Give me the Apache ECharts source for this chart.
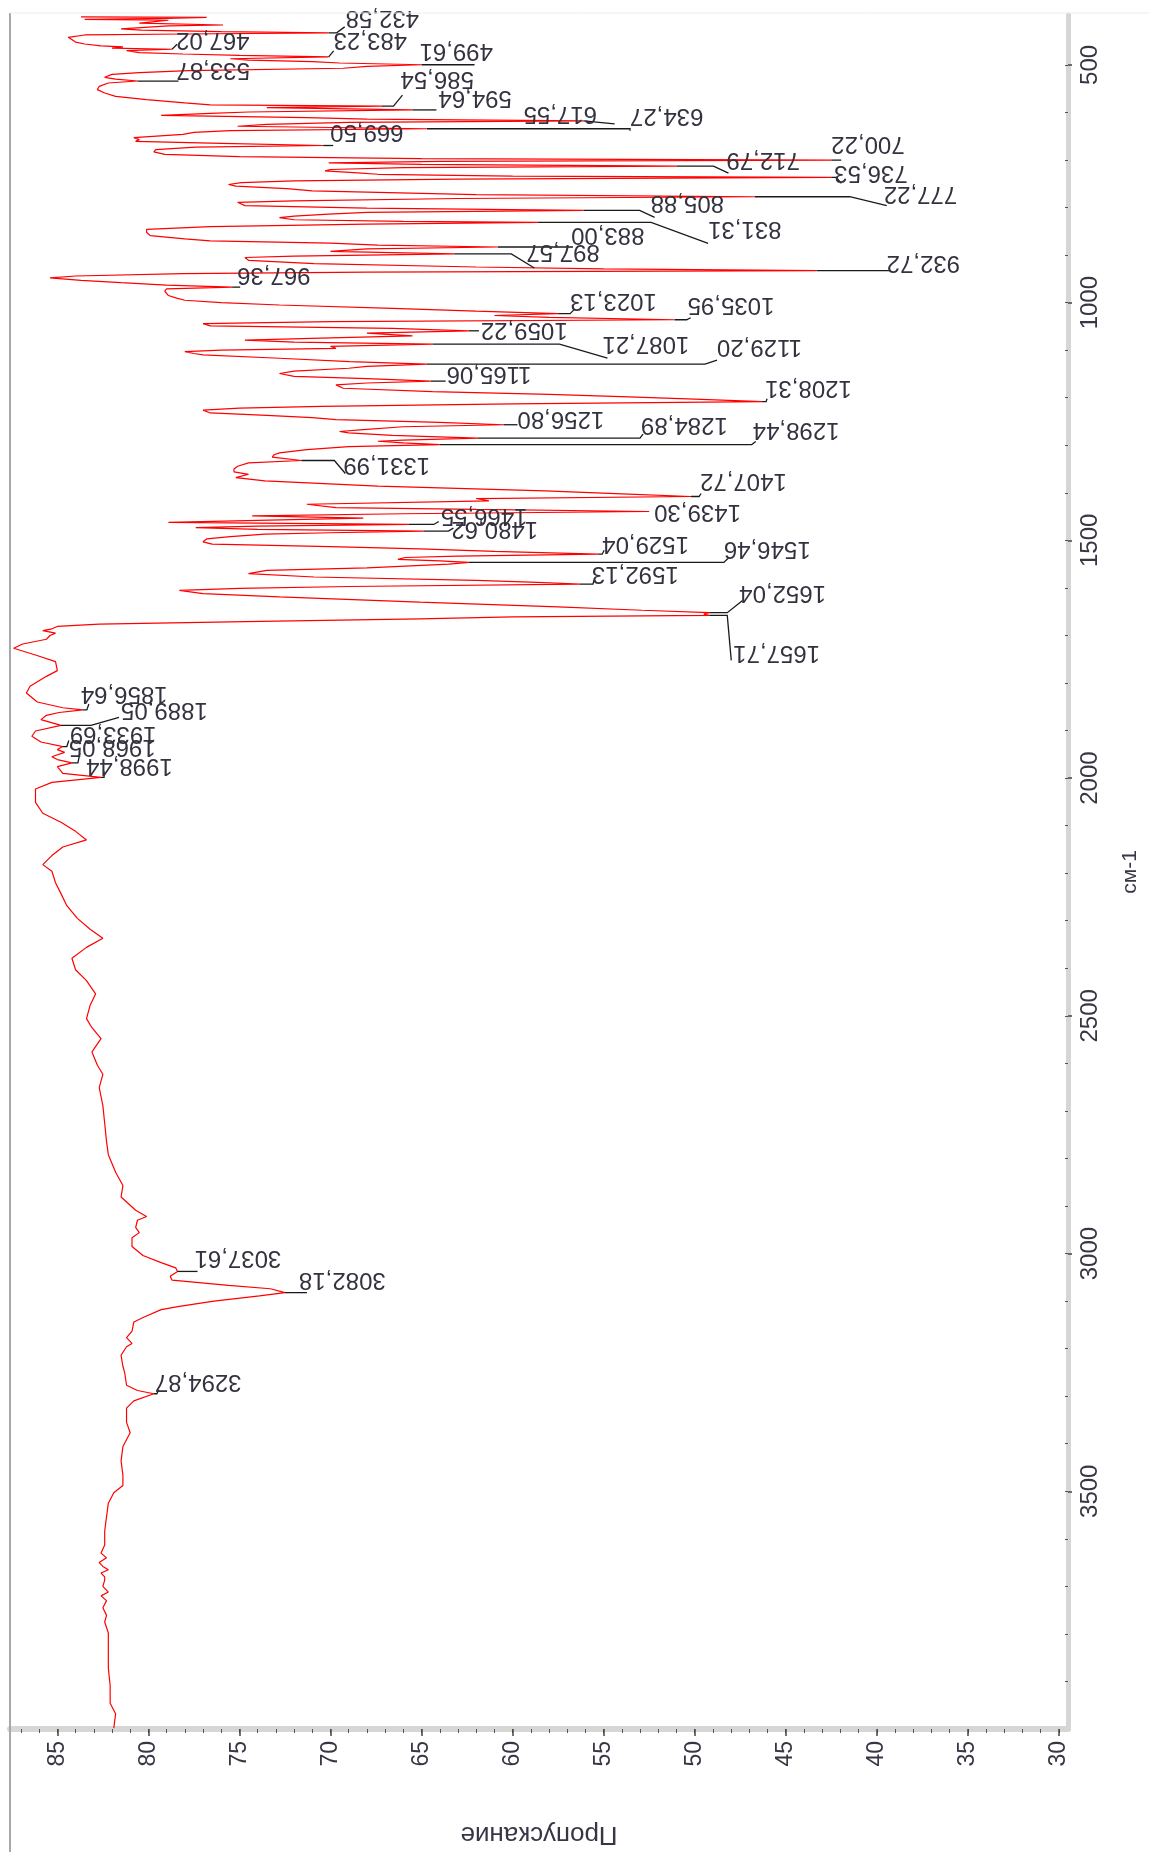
<!DOCTYPE html>
<html><head><meta charset="utf-8">
<script src="https://cdn.jsdelivr.net/npm/echarts@6/dist/echarts.min.js"></script>
<style>html,body{margin:0;padding:0;background:#fff}#c{width:1149px;height:1852px}</style>
</head><body><div id="c"></div>
<script>
// ---- data: IR spectrum (wavenumber, transmittance) ----
const spectrumWn = [399,400,402,404,406,412,416,418,424,427,430,432.58,435,437,442,446,452,456,460,462,464.5,467.02,470,474,477,480,483.23,487,490,493,496,499.61,503,507,512,516,520,526,530,533.87,538,545,552,559,566,573,580,584,586.54,590,594.64,599,602,606,611,614,617.55,621,625,629,634.27,638,642,646,653,657,661,665,669.50,673,678,683,688,693,697,700.22,703,706,709,712.79,716,720,723,727,730,734,736.53,740,744,747.5,751.5,755,760,765,769,773,777.22,781,786,789,796,801,805.88,810,814,818,821,825.6,829,831.31,835,840,846,852,859,866,870,875,879,883.00,887,892,897.57,902,905,911,918,925,929,932.72,936,939,944,948,953,958,963,967.36,971,976,980,985,990,995,1000,1005,1012,1018,1023.13,1027,1031,1035.95,1040,1044,1049,1054,1059.22,1064,1070,1074,1079,1083,1087.21,1092,1096,1100,1103,1107,1110,1117,1124,1129.20,1134,1138,1144,1149,1155,1160,1165.06,1169,1173,1180,1187,1193,1198,1203,1208.31,1213,1218,1222,1226,1232,1237,1242,1246,1252,1256.80,1261,1267,1271,1274,1279,1284.89,1289,1291.5,1295,1298.44,1303,1309,1316,1320,1325,1331.99,1337,1344,1350,1356,1361,1368,1375,1386,1396,1402,1407.72,1412,1417,1424,1431,1435,1439.30,1444,1448.4,1453,1458,1462,1466.55,1470,1473,1477,1480.62,1484,1487,1492,1497,1503,1508,1513,1518,1523,1529.04,1533,1536,1540,1543,1546.46,1550,1553,1558,1563,1570,1577,1584,1588,1592.13,1597,1601,1605,1612,1619,1630,1640,1647,1652.04,1655,1657.71,1661,1665,1671,1676,1681,1686,1690,1695,1700,1708,1718,1727,1741,1755,1774,1786,1807,1821,1840,1852,1856.64,1862,1868,1877,1889.05,1901,1912,1924,1933.69,1940,1946,1955,1961,1968.05,1976,1990,1998.44,2009,2023,2051,2074,2093,2112,2130,2145,2163,2182,2196,2220,2243,2267,2295,2318,2337,2356,2379,2403,2426,2454,2478,2506,2525,2548,2576,2604,2623,2651,2689,2726,2764,2792,2829,2857,2881,2909,2922,2930,2945,2956,2967,2985,3004,3019,3030,3037.61,3048,3056,3067,3074,3082.18,3089,3100,3111,3118,3133,3144,3163,3177,3189,3196,3214,3237,3251,3277,3288,3294.87,3310,3325,3355,3377,3406,3436,3466,3488,3503,3525,3554,3584,3613,3630,3640,3650,3658,3665,3672,3680,3687,3700,3712,3720,3730,3745,3761,3775,3798,3835,3872,3909,3946,3968,3998];
const spectrumT = [83.7,76.8,79.0,83.5,78.9,80.5,75.9,78.9,81.5,80.4,76.0,70.1,78.0,83.5,84.4,84.5,84.0,83.5,82.6,81.4,82.0,78.7,81.2,80.5,78.1,75.0,70.1,75.5,74.5,71.0,69.5,65.0,68.0,69.3,77.8,80.5,82.0,82.4,81.8,80.6,82.2,82.7,82.8,82.4,81.8,80.1,78.0,76.6,67.2,73.5,65.5,74.5,76.6,79.3,71.3,68.0,56.1,69.0,73.5,75.1,64.7,75.5,77.5,78.1,80.8,80.5,80.7,76.0,70.4,77.4,79.6,79.7,79.1,75.0,65.0,42.5,64.0,70.1,65.0,51.0,66.0,70.0,70.3,68.5,67.4,60.0,42.5,63.0,72.0,74.9,75.6,75.2,72.4,71.0,70.9,62.0,46.7,63.0,72.0,75.1,74.7,68.0,56.1,68.0,70.1,72.0,72.8,72.0,66.0,58.6,68.0,76.6,80.1,80.1,79.9,78.0,76.6,70.0,67.4,60.8,68.0,70.0,63.2,72.0,74.7,74.5,70.9,62.0,55.0,43.3,68.0,78.1,84.0,85.4,83.7,81.5,79.0,75.4,79.0,79.1,79.0,78.9,78.5,78.0,76.0,72.8,66.6,62.0,57.5,61.0,58.0,51.1,70.0,77.0,76.6,66.6,62.4,68.0,65.5,70.0,74.7,72.0,64.4,70.0,69.7,76.0,78.0,77.5,77.0,72.8,68.95,64.7,68.0,69.0,72.0,72.8,72.0,68.0,64.5,68.0,69.7,69.3,64.4,58.0,53.6,50.0,46.3,60.0,70.5,75.0,77.0,76.6,73.5,71.0,69.7,64.0,60.5,66.0,68.2,69.5,69.0,66.6,61.9,66.0,67.4,66.0,64.0,69.0,71.3,72.8,73.1,73.2,71.6,74.5,75.1,75.3,75.3,74.5,75.2,73.6,67.4,58.2,54.0,50.2,62.0,61.3,71.3,69.7,62.0,52.5,66.0,74.3,68.2,74.0,78.9,65.7,74.0,77.4,74.0,64.9,70.0,73.6,75.5,76.8,77.0,76.5,70.0,65.1,61.0,55.3,63.0,65.9,66.3,64.0,62.4,63.5,63.6,68.0,73.5,74.5,70.9,62.0,59.0,56.3,69.0,75.0,78.3,77.0,72.8,65.1,57.5,52.9,49.2,49.5,49.2,60.0,65.1,74.7,82.7,85.0,85.3,85.8,85.1,85.4,85.6,86.9,87.4,86.2,85.1,85.0,85.6,86.5,86.7,86.1,84.7,83.6,84.9,85.6,85.9,84.8,86.2,86.4,85.9,84.7,85.0,84.6,85.3,85.0,84.2,85.0,84.7,82.6,85.3,86.2,86.2,85.8,84.8,84.0,83.4,84.7,85.3,85.8,85.3,85.1,84.8,84.5,83.9,83.2,82.5,83.4,84.2,84.0,83.4,82.9,83.2,83.4,83.1,82.6,83.1,82.8,82.5,82.7,82.5,82.4,82.3,82.2,81.8,81.4,81.5,80.7,80.1,80.6,80.7,80.5,80.9,80.9,80.3,79.3,78.5,78.4,78.8,78.7,75.6,73.3,72.5,73.9,76.4,78.3,79.3,80.2,80.8,80.9,81.2,80.9,81.2,81.5,81.4,81.3,81.2,80.6,79.7,80.8,81.2,81.2,81.0,81.4,81.5,81.4,81.4,81.9,82.2,82.3,82.4,82.4,82.6,82.3,82.7,82.5,82.2,82.6,82.4,82.4,82.5,82.2,82.6,82.3,82.5,82.3,82.4,82.2,82.2,82.2,82.1,82.1,81.8,81.9];

// labelled peaks
const peakWn = [432.58,467.02,483.23,499.61,533.87,586.54,594.64,617.55,634.27,669.50,700.22,712.79,736.53,777.22,805.88,831.31,883.00,897.57,932.72,967.36,1023.13,1035.95,1059.22,1087.21,1129.20,1165.06,1208.31,1256.80,1284.89,1298.44,1331.99,1407.72,1439.30,1466.55,1480.62,1529.04,1546.46,1592.13,1652.04,1657.71,1856.64,1889.05,1933.69,1968.05,1998.44,3037.61,3082.18,3294.87];
const peakT = [70.1,78.7,70.1,65.0,80.6,67.2,65.5,56.1,64.7,70.4,42.5,51.0,42.5,46.7,56.1,58.6,60.8,63.2,43.3,75.4,57.5,51.1,62.4,64.4,64.7,64.5,46.3,60.5,61.9,64.0,71.6,50.2,52.5,65.7,64.9,55.3,62.4,56.3,49.2,49.2,83.6,84.8,84.7,84.2,82.6,78.4,72.5,79.7];

// tick labels
const transTicks = [30,35,40,45,50,55,60,65,70,75,80,85];
const waveTicks = [500,1000,1500,2000,2500,3000,3500];

// ---- layout (pixel offsets of leader lines / labels from peak tips) ----
// [elbowDx, endDx, endDy, textDx, textDy]
const peakLabelLayout = [
 [8,16,-6,17,-15],[0,5,-5,4,-10],[0,5,-6,5,-17],[53,53,0,-2,-14],[41,41,0,39,-11],
 [12,21,-11,19,-27],[24,24,0,26,-12],[0,31,3,-60,-7],[203,203,2,203,-13],[10,10,0,7,-14],
 [10,10,0,0,-16],[37,52,7,50,-6],[5,10,6,3,-5],[95,132,9,129,-3],[56,71,7,67,-8],
 [113,170,21,170,6],[75,75,0,73,-12],[57,80,14,72,-2],[74,74,0,70,-8],[8,8,0,5,-13],
 [12,16,-4,12,-13],[12,16,-2,13,-15],[5,10,0,12,-1],[127,175,14,170,0],[278,290,-4,290,-17],
 [8,15,0,16,-8],[4,5,-3,3,-14],[10,14,0,14,-6],[162,165,-4,163,-13],[312,316,-3,313,-15],
 [33,44,13,42,4],[8,10,-3,9,-16],[0,0,0,5,0],[25,30,-3,32,-9],[25,30,-3,28,-3],
 [4,6,-4,4,-11],[255,259,-4,255,-14],[13,14,-4,12,-11],[18,33,-12,30,-20],[18,22,45,24,37],
 [4,6,-6,-2,-16],[30,58,-8,60,-16],[4,6,-6,7,-13],[6,8,-10,-3,-16],[3,3,-6,-15,-12],
 [20,20,0,17,-14],[22,22,0,14,-13],[3,5,-4,1,-12]
];

const minorT = []; for (let v = 30; v <= 87; v++) minorT.push(v);
const minorW = []; for (let v = 500; v <= 3900; v += 100) minorW.push(v);

const spectrum = spectrumWn.map((w, i) => [spectrumT[i], w]);
const peaks = peakWn.map((w, i) => [peakT[i], w, i]);
const fmt = v => v.toFixed(2).replace('.', ',');

const FONT = '"Liberation Sans", Arial, sans-serif';
const chart = echarts.init(document.getElementById('c'), null, {renderer: 'canvas'});
const xCommon = {type: 'value', min: 29.5, max: 87.6, inverse: true, position: 'bottom', splitLine: {show: false}};
const yCommon = {type: 'value', min: 395, max: 4000, inverse: true, position: 'right', splitLine: {show: false}};
chart.setOption({
  animation: false,
  backgroundColor: '#ffffff',
  grid: {left: 10, right: 75, top: 15, bottom: 116, containLabel: false},
  xAxis: [
    Object.assign({}, xCommon, {
      name: 'Пропускание', nameLocation: 'middle', nameGap: 92, nameRotate: 180,
      nameTextStyle: {fontFamily: FONT, fontSize: 26, color: '#3a3545'},
      axisLine: {show: true, lineStyle: {color: '#d6d6d6', width: 6}},
      axisTick: {show: true, customValues: minorT, length: 4, lineStyle: {color: '#555', width: 1}},
      axisLabel: {show: true, customValues: transTicks, rotate: 90, margin: 12, fontFamily: FONT, fontSize: 23, color: '#3a3545',
                  formatter: v => String(v)}
    }),
    Object.assign({}, xCommon, {
      axisLine: {show: false},
      axisTick: {show: true, customValues: transTicks, length: 7, lineStyle: {color: '#444', width: 1.5}},
      axisLabel: {show: false}
    })
  ],
  yAxis: [
    Object.assign({}, yCommon, {
      name: 'см-1', nameLocation: 'middle', nameGap: 52, nameRotate: 90,
      nameTextStyle: {fontFamily: FONT, fontSize: 21, color: '#3a3545'},
      axisLine: {show: true, lineStyle: {color: '#d6d6d6', width: 5}},
      axisTick: {show: true, customValues: minorW, length: 3, inside: true, lineStyle: {color: '#555', width: 1}},
      axisLabel: {show: true, customValues: waveTicks, rotate: 90, margin: 10, fontFamily: FONT, fontSize: 24, color: '#3a3545',
                  formatter: v => String(v)}
    }),
    Object.assign({}, yCommon, {
      axisLine: {show: false},
      axisTick: {show: true, customValues: waveTicks, length: 4, lineStyle: {color: '#444', width: 1.5}},
      axisLabel: {show: false}
    })
  ],
  graphic: [
    {type: 'line', shape: {x1: 10, y1: 13, x2: 10, y2: 1852}, style: {stroke: '#a8a8a8', lineWidth: 2}, z: 100},
    {type: 'line', shape: {x1: 10, y1: 13, x2: 1149, y2: 13}, style: {stroke: '#ececec', lineWidth: 1}, z: 100}
  ],
  series: [
    {
      type: 'line', xAxisIndex: 0, yAxisIndex: 0, data: spectrum,
      showSymbol: false, symbol: 'none', smooth: false,
      lineStyle: {color: '#ff0000', width: 1.2}, z: 2, silent: true
    },
    {
      type: 'custom', xAxisIndex: 0, yAxisIndex: 0, data: peaks, z: 3, silent: true,
      encode: {x: 0, y: 1},
      renderItem: function (params, api) {
        const i = api.value(2);
        const p = api.coord([api.value(0), api.value(1)]);
        const o = peakLabelLayout[i];
        const pts = [[p[0], p[1]], [p[0] + o[0], p[1]], [p[0] + o[1], p[1] + o[2]]];
        return {
          type: 'group',
          children: [
            {type: 'polyline', shape: {points: pts}, style: {stroke: '#1a1a1a', lineWidth: 1.3, fill: null}},
            {type: 'text', x: p[0] + o[3], y: p[1] + o[4], rotation: Math.PI,
             style: {text: fmt(peakWn[i]), fill: '#35323f', font: '24px ' + FONT, align: 'right', verticalAlign: 'middle'}}
          ]
        };
      }
    }
  ]
});
</script>
</body></html>
